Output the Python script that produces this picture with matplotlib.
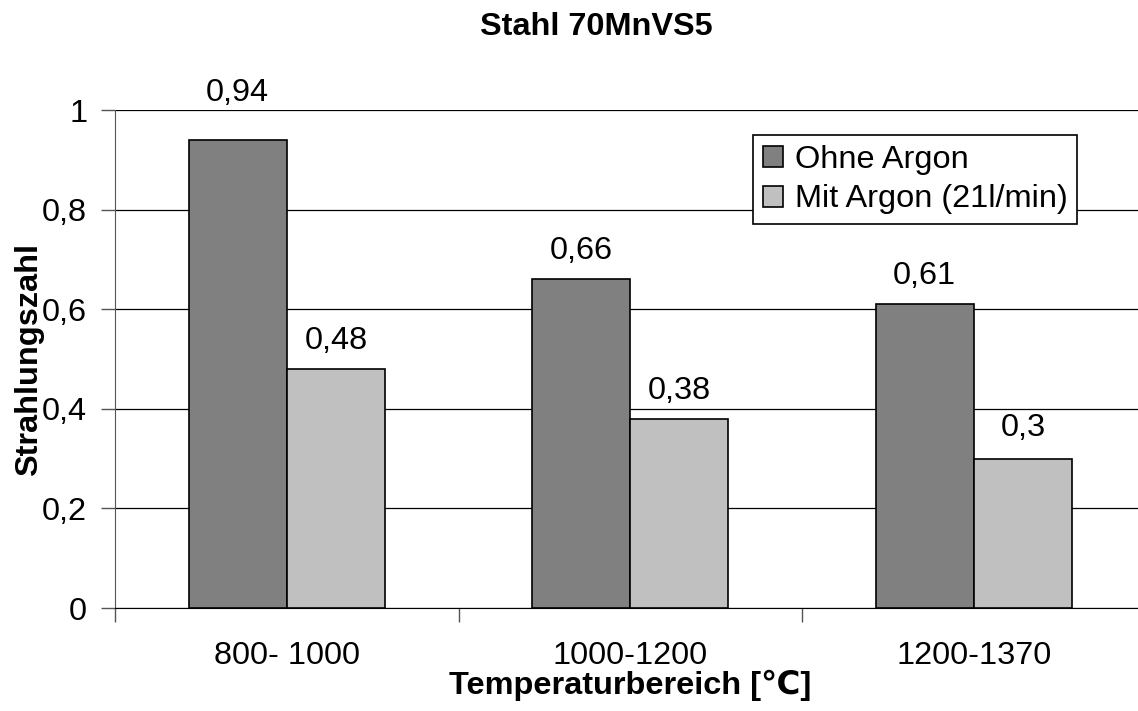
import numpy as np
import matplotlib.pyplot as plt

# Strahlungszahl je Temperaturbereich
bereiche = ["800- 1000", "1000-1200", "1200-1370"]
ohne_argon = [0.94, 0.66, 0.61]
mit_argon = [0.48, 0.38, 0.3]
serien = ["Ohne Argon", "Mit Argon (21l/min)"]

plt.rcParams['font.family'] = ['Liberation Sans', 'DejaVu Sans']
plt.rcParams['font.size'] = 23.4

fig = plt.figure(figsize=(11.38, 7.11), dpi=100)
# Plotbereich reicht rechts etwas über den Rand hinaus
ax = fig.add_axes([115 / 1138, 103 / 711, 1030.5 / 1138, 498 / 711])

x = np.arange(len(bereiche))
breite = 0.286

b1 = ax.bar(x - breite / 2, ohne_argon, breite, color="#808080", edgecolor="black", linewidth=1.2,
            label=serien[0], zorder=3)
b2 = ax.bar(x + breite / 2, mit_argon, breite, color="#C0C0C0", edgecolor="black", linewidth=1.2,
            label=serien[1], zorder=3)

# Werte über den Balken (der höchste steht etwas weiter oben)
abstand_ohne = [23, 9.5, 9.5]
abstand_mit = [9.5, 9, 11]
for bars, werte, abst in [(b1, ohne_argon, abstand_ohne), (b2, mit_argon, abstand_mit)]:
    for b, w, d in zip(bars, werte, abst):
        ax.annotate(f"{w:g}".replace(".", ","), (b.get_x() + b.get_width() / 2, w),
                    xytext=(0, d), textcoords="offset points", ha="center", va="bottom")

ax.set_xlim(-0.5, 2.5)
ax.set_ylim(0, 1)
ax.set_yticks([0, 0.2, 0.4, 0.6, 0.8, 1])
ax.set_yticklabels(["0", "0,2", "0,4", "0,6", "0,8", "1"])
ax.yaxis.grid(True, color="black", linewidth=0.9, zorder=0)

ax.set_xticks([-0.5, 0.5, 1.5, 2.5])
ax.set_xticklabels([])
ax.set_xticks(x, minor=True)
ax.set_xticklabels(bereiche, minor=True)
ax.tick_params(axis="x", which="major", length=10, width=1, color="#555555")
ax.tick_params(axis="x", which="minor", length=0, pad=24)
ax.tick_params(axis="y", length=10, width=1, pad=10, color="#555555")

for s in ["top", "right"]:
    ax.spines[s].set_visible(False)
ax.spines["left"].set_color("#555555")
ax.spines["bottom"].set_color("black")

ax.set_xlabel("Temperaturbereich [℃]", fontweight="bold")
ax.set_ylabel("Strahlungszahl", fontweight="bold")
ax.xaxis.set_label_coords(0.5, -0.125)
ax.yaxis.set_label_coords(-0.069, 0.5)
fig.text(596 / 1138, 1 - 27 / 711, "Stahl 70MnVS5", ha="center", va="center", fontweight="bold")

leg = fig.legend(loc="upper left", bbox_to_anchor=(753 / 1138, 1 - 135 / 711), fancybox=False,
                 framealpha=1, edgecolor="black", handlelength=0.62, handleheight=0.62,
                 handletextpad=0.37, labelspacing=0.3, borderpad=0.3, borderaxespad=0)
leg.get_frame().set_linewidth(1.2)

plt.savefig("out.png", dpi=100)
